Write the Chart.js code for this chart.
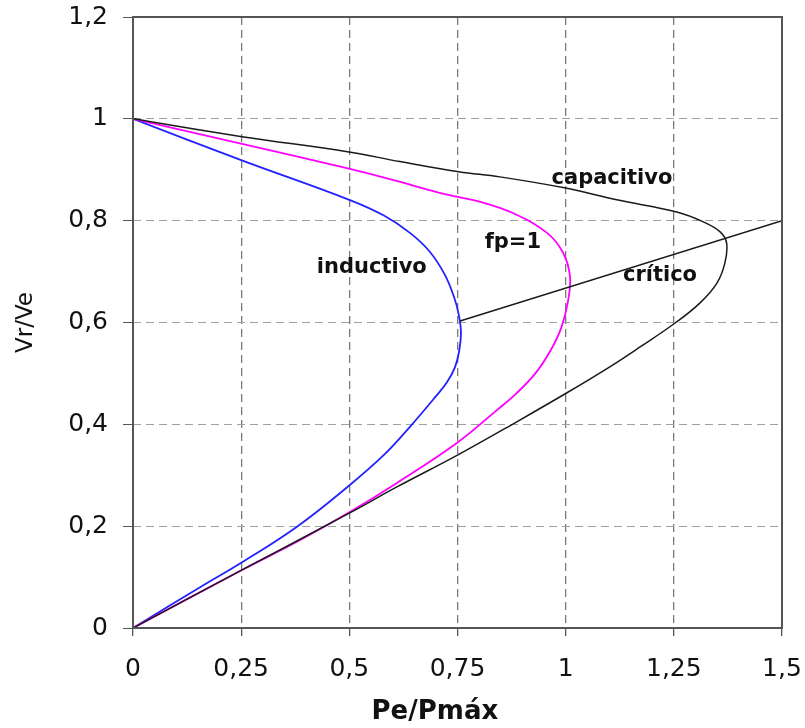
<!DOCTYPE html>
<html lang="es">
  <head>
    <meta charset="UTF-8" />
    <title>Vr/Ve vs Pe/Pmáx</title>
    <script src="https://cdn.jsdelivr.net/npm/chart.js@4.4.0/dist/chart.umd.min.js"></script>
    <style>
      body { margin: 0; background: #fff; }
    </style>
  </head>
  <body>
    <canvas id="chart" width="805" height="728"></canvas>

    <script>
      // eje x / eje y
      const xTickValues = [0, 0.25, 0.5, 0.75, 1, 1.25, 1.5];
      const xTickLabels = ["0", "0,25", "0,5", "0,75", "1", "1,25", "1,5"];
      const yTickValues = [0, 0.2, 0.4, 0.6, 0.8, 1, 1.2];
      const yTickLabels = ["0", "0,2", "0,4", "0,6", "0,8", "1", "1,2"];

      // inductivo
      const indX = [0, 0.25, 0.5, 0.58, 0.64, 0.685, 0.72, 0.742, 0.753, 0.758, 0.754, 0.744, 0.726, 0.7, 0.64, 0.58, 0.497, 0.379, 0.252, 0.155, 0];
      const indY = [1, 0.919, 0.841, 0.81, 0.776, 0.74, 0.695, 0.65, 0.615, 0.58, 0.545, 0.512, 0.483, 0.455, 0.395, 0.34, 0.278, 0.199, 0.129, 0.08, 0];

      // fp=1
      const fpX = [0, 0.252, 0.499, 0.6, 0.726, 0.803, 0.878, 0.957, 0.994, 1.01, 1.005, 0.99, 0.965, 0.93, 0.885, 0.841, 0.751, 0.61, 0.501, 0.38, 0.252, 0];
      const fpY = [1, 0.951, 0.902, 0.88, 0.851, 0.837, 0.815, 0.776, 0.737, 0.69, 0.64, 0.59, 0.545, 0.5, 0.46, 0.428, 0.365, 0.285, 0.228, 0.17, 0.114, 0];

      // capacitivo
      const capX = [0, 0.252, 0.499, 0.617, 0.753, 0.848, 1.0, 1.118, 1.257, 1.317, 1.357, 1.372, 1.368, 1.35, 1.31, 1.253, 1.172, 1.102, 1.003, 0.887, 0.751, 0.61, 0.501, 0.252, 0];
      const capY = [1, 0.965, 0.935, 0.916, 0.896, 0.886, 0.864, 0.841, 0.817, 0.798, 0.778, 0.756, 0.717, 0.678, 0.638, 0.599, 0.552, 0.513, 0.462, 0.405, 0.34, 0.277, 0.226, 0.114, 0];

      // crítico
      const critX = [0.756, 1.5];
      const critY = [0.603, 0.8];

      // rótulos
      const noteTexts = ["capacitivo", "fp=1", "crítico", "inductivo"];
      const noteX = [1.107, 0.878, 1.218, 0.552];
      const noteY = [0.882, 0.758, 0.692, 0.707];

      function toPoints(xs, ys) {
        return xs.map((x, i) => ({ x: x, y: ys[i] }));
      }

      const framePlugin = {
        id: "frame",
        afterDraw(chart) {
          const a = chart.chartArea;
          const ctx = chart.ctx;
          ctx.save();
          ctx.strokeStyle = "#555";
          ctx.lineWidth = 2;
          ctx.strokeRect(a.left, a.top, a.right - a.left, a.bottom - a.top);
          ctx.restore();
        },
      };

      const notesPlugin = {
        id: "notes",
        afterDatasetsDraw(chart) {
          const ctx = chart.ctx;
          const xs = chart.scales.x;
          const ys = chart.scales.y;
          ctx.save();
          ctx.font = "bold 21px 'DejaVu Sans'";
          ctx.fillStyle = "#111";
          ctx.textAlign = "center";
          ctx.textBaseline = "middle";
          for (let i = 0; i < noteTexts.length; i++) {
            ctx.fillText(noteTexts[i], xs.getPixelForValue(noteX[i]), ys.getPixelForValue(noteY[i]));
          }
          ctx.restore();
        },
      };

      const lineStyle = { showLine: true, pointRadius: 0, tension: 0.4, fill: false };

      new Chart(document.getElementById("chart"), {
        type: "scatter",
        data: {
          datasets: [
            { ...lineStyle, label: "capacitivo", data: toPoints(capX, capY), borderColor: "#1a1a1a", borderWidth: 1.5 },
            { ...lineStyle, label: "crítico", data: toPoints(critX, critY), borderColor: "#1a1a1a", borderWidth: 1.4, tension: 0 },
            { ...lineStyle, label: "fp=1", data: toPoints(fpX, fpY), borderColor: "#ff00ff", borderWidth: 1.8 },
            { ...lineStyle, label: "inductivo", data: toPoints(indX, indY), borderColor: "#2222ff", borderWidth: 1.8 },
          ],
        },
        options: {
          responsive: false,
          animation: false,
          layout: { padding: { top: 17, right: 23, left: 0, bottom: 0 } },
          plugins: {
            legend: { display: false },
            tooltip: { enabled: false },
          },
          scales: {
            x: {
              type: "linear",
              min: 0,
              max: 1.5,
              afterBuildTicks: (s) => { s.ticks = xTickValues.map((v) => ({ value: v })); },
              afterFit: (s) => {
                s.height = 100;
                s.paddingLeft = 0;
                s.paddingRight = 0;
              },
              ticks: {
                callback: (v, i) => xTickLabels[i],
                font: { family: "DejaVu Sans", size: 25 },
                color: "#111",
                padding: 18,
                maxRotation: 0,
                autoSkip: false,
              },
              grid: { color: "#7a7a7a", lineWidth: 1.3, tickLength: 8, tickColor: "#555", tickBorderDash: [] },
              border: { display: false, dash: [8, 5] },
              title: {
                display: true,
                text: "Pe/Pmáx     ",
                font: { family: "DejaVu Sans", size: 26, weight: "bold" },
                color: "#111",
                padding: { top: 0, bottom: 0 },
              },
            },
            y: {
              type: "linear",
              min: 0,
              max: 1.2,
              afterBuildTicks: (s) => { s.ticks = yTickValues.map((v) => ({ value: v })); },
              afterFit: (s) => {
                s.width = 133;
                s.paddingTop = 0;
                s.paddingBottom = 0;
              },
              ticks: {
                callback: (v, i) => yTickLabels[i],
                font: { family: "DejaVu Sans", size: 25 },
                color: "#111",
                padding: 15,
                autoSkip: false,
              },
              grid: { color: "#a0a0a0", lineWidth: 1, tickLength: 10, tickColor: "#555", tickBorderDash: [] },
              border: { display: false, dash: [8, 5] },
              title: {
                display: true,
                text: "Vr/Ve",
                font: { family: "DejaVu Sans", size: 23 },
                color: "#111",
                padding: { top: 12, bottom: 0 },
              },
            },
          },
        },
        plugins: [framePlugin, notesPlugin],
      });
    </script>
  </body>
</html>
